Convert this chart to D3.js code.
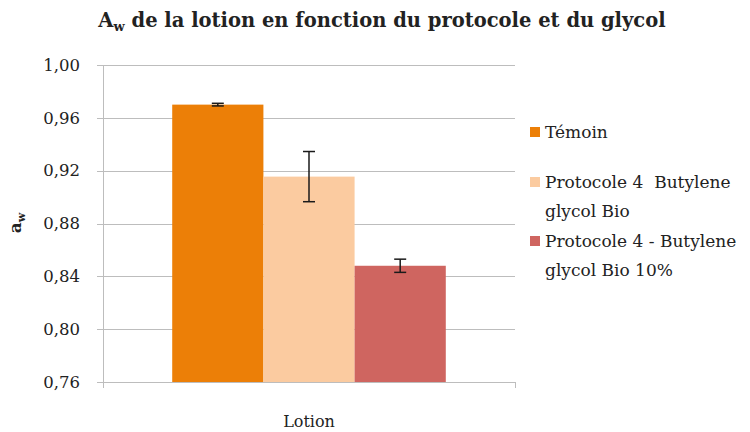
<!DOCTYPE html>
<html lang="fr">
<head>
<meta charset="utf-8" />
<title>Aw de la lotion</title>
<script src="https://cdn.jsdelivr.net/npm/d3@7"></script>
<style>
body { margin: 0; background: white; }
text { font-family: "DejaVu Serif", "Liberation Serif", serif; fill: #222; white-space: pre; }
</style>
</head>
<body>
<script>
// data
var categories = ["Lotion"];
var seriesNames = ["Témoin", "Protocole 4  Butylene glycol Bio", "Protocole 4 - Butylene glycol Bio 10%"];
var legendLines = [["Témoin"], ["Protocole 4  Butylene", "glycol Bio"], ["Protocole 4 - Butylene", "glycol Bio 10%"]];
var values = [0.970, 0.9155, 0.848];
var errors = [0.001, 0.019, 0.005];
var colors = ["#EC7F07", "#FBCBA0", "#CF6560"];
var yTicks = [0.76, 0.80, 0.84, 0.88, 0.92, 0.96, 1.00];

var w = 750, h = 432;
var pad = { left: 103, right: 235, top: 65, bottom: 50 };

var svg = d3.select("body").append("svg")
    .attr("width", w)
    .attr("height", h);

var y = d3.scaleLinear()
    .domain([0.76, 1.00])
    .range([h - pad.bottom, pad.top]);

var x0 = d3.scaleBand()
    .domain(categories)
    .range([pad.left, w - pad.right])
    .paddingInner(0)
    .paddingOuter(0.253);

var x1 = d3.scaleBand()
    .domain(d3.range(values.length))
    .range([0, x0.bandwidth()]);

var fmt = function(d) { return d3.format(".2f")(d).replace(".", ","); };

// gridlines
svg.append("g")
    .selectAll("line")
    .data(yTicks)
    .enter().append("line")
    .attr("x1", pad.left - 6)
    .attr("x2", w - pad.right)
    .attr("y1", function(d) { return Math.round(y(d)) + 0.5; })
    .attr("y2", function(d) { return Math.round(y(d)) + 0.5; })
    .attr("stroke", "#BDBDBD")
    .attr("stroke-width", 1);

// y axis line + bottom ticks
svg.append("line")
    .attr("x1", pad.left + 0.5).attr("x2", pad.left + 0.5)
    .attr("y1", pad.top).attr("y2", h - pad.bottom + 6)
    .attr("stroke", "#BDBDBD");
svg.append("line")
    .attr("x1", w - pad.right + 0.5).attr("x2", w - pad.right + 0.5)
    .attr("y1", h - pad.bottom).attr("y2", h - pad.bottom + 6)
    .attr("stroke", "#BDBDBD");

// tick labels
svg.append("g")
    .selectAll("text")
    .data(yTicks)
    .enter().append("text")
    .attr("x", 80)
    .attr("y", function(d) { return y(d); })
    .attr("dy", "0.35em")
    .attr("text-anchor", "end")
    .attr("font-size", 16.5)
    .text(fmt);

// bars
var g = svg.append("g")
    .selectAll("g")
    .data(categories)
    .enter().append("g")
    .attr("transform", function(d) { return "translate(" + x0(d) + ",0)"; });

g.selectAll("rect")
    .data(values)
    .enter().append("rect")
    .attr("x", function(d, i) { return x1(i); })
    .attr("y", function(d) { return y(d); })
    .attr("width", x1.bandwidth())
    .attr("height", function(d) { return y(0.76) - y(d); })
    .attr("fill", function(d, i) { return colors[i]; });

// error bars
var eb = g.selectAll("g.err")
    .data(values)
    .enter().append("g")
    .attr("class", "err")
    .attr("stroke", "#1a1a1a")
    .attr("stroke-width", 1.5);
eb.append("line")
    .attr("x1", function(d, i) { return x1(i) + x1.bandwidth() / 2; })
    .attr("x2", function(d, i) { return x1(i) + x1.bandwidth() / 2; })
    .attr("y1", function(d, i) { return y(d + errors[i]); })
    .attr("y2", function(d, i) { return y(d - errors[i]); });
[1, -1].forEach(function(s) {
  eb.append("line")
    .attr("x1", function(d, i) { return x1(i) + x1.bandwidth() / 2 - 6; })
    .attr("x2", function(d, i) { return x1(i) + x1.bandwidth() / 2 + 6; })
    .attr("y1", function(d, i) { return y(d + s * errors[i]); })
    .attr("y2", function(d, i) { return y(d + s * errors[i]); });
});

// category label
svg.append("text")
    .attr("x", x0("Lotion") + x0.bandwidth() / 2)
    .attr("y", 421)
    .attr("dy", "0.35em")
    .attr("text-anchor", "middle")
    .attr("font-size", 16)
    .text(categories[0]);

// title
var title = svg.append("text")
    .attr("x", 382)
    .attr("y", 27)
    .attr("text-anchor", "middle")
    .attr("font-size", 19.5)
    .attr("font-weight", "bold");
title.append("tspan").text("A");
title.append("tspan").attr("font-size", 13).attr("dy", 4).text("w");
title.append("tspan").attr("dy", -4).text(" de la lotion en fonction du protocole et du glycol");

// y label
var yl = svg.append("text")
    .attr("transform", "translate(21,223) rotate(-90)")
    .attr("text-anchor", "middle")
    .attr("font-size", 17)
    .attr("font-weight", "bold");
yl.append("tspan").text("a");
yl.append("tspan").attr("font-size", 11).attr("dy", 4).text("w");

// legend
var legY = [132, 182, 241];
var leg = svg.append("g")
    .selectAll("g")
    .data(legendLines)
    .enter().append("g")
    .attr("transform", function(d, i) { return "translate(530," + legY[i] + ")"; });
leg.append("rect")
    .attr("x", 0).attr("y", -5)
    .attr("width", 10).attr("height", 10)
    .attr("fill", function(d, i) { return colors[i]; });
leg.selectAll("text")
    .data(function(d) { return d; })
    .enter().append("text")
    .attr("x", 15)
    .attr("y", function(d, i) { return i * 29; })
    .attr("dy", "0.35em")
    .attr("font-size", 17)
    .text(function(d) { return d; });
</script>
</body>
</html>
